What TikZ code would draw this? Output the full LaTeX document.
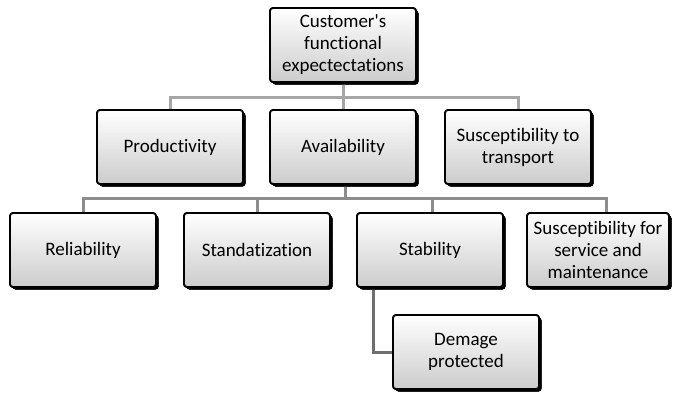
\documentclass[tikz,border=0pt]{standalone}
\usepackage{fontspec}
\setmainfont{Carlito}[Ligatures={TeXOff,NoCommon}]
\usetikzlibrary{shadows,calc}
\definecolor{conA}{HTML}{A6A6A6}
\definecolor{conB}{HTML}{8C8C8C}
\definecolor{conC}{HTML}{6E6E6E}
\tikzset{
  boxnode/.style={draw=black, line width=1.8pt, rounded corners=3pt,
    top color=white, bottom color=black!20,
    minimum width=146pt, minimum height=74pt, inner sep=0pt,
    align=center, font=\fontsize{19}{22}\selectfont,
    drop shadow={shadow xshift=2.5pt, shadow yshift=-2.5pt, fill=black, opacity=1}},
  linkA/.style={draw=conA, line width=3pt},
  linkB/.style={draw=conB, line width=3pt},
  linkC/.style={draw=conC, line width=3pt}
}
\begin{document}
\begin{tikzpicture}[x=1pt,y=-1pt]
\useasboundingbox (0,0) rectangle (675,392);
\coordinate (busA) at (343,97);
\coordinate (busB) at (345,198);
\node[boxnode] (root) at (343,45) {Customer's\\functional\\expectectations};
\node[boxnode] (prod) at (170,147) {Productivity};
\node[boxnode] (avail) at (343,147) {Availability};
\node[boxnode] (trans) at (518,147) {Susceptibility to\\transport};
\node[boxnode] (rel) at (83,250) {Reliability};
\node[boxnode] (std) at (257,250) {Standatization};
\node[boxnode] (stab) at (430,250) {Stability};
\node[boxnode, minimum width=142pt] (serv) at (598,250) {Susceptibility for\\service and\\maintenance};
\node[boxnode] (dem) at (466,352) {Demage\\protected};
\draw[linkA] (root.south) -- (busA);
\draw[linkA] (prod.north) |- (busA) -| (trans.north);
\draw[linkA] (busA) -- (avail.north);
\draw[linkB] ([xshift=2pt]avail.south) -- (busB);
\draw[linkB] (rel.north) |- (busB) -| ([xshift=8pt]serv.north);
\draw[linkB] (std.north |- busB) -- (std.north);
\draw[linkB] ([xshift=2pt]stab.north |- busB) -- ([xshift=2pt]stab.north);
\draw[linkC] ([xshift=-57pt]stab.south) |- (dem.west);
% boxes redrawn above the connectors
\node[boxnode] at (root) {Customer's\\functional\\expectectations};
\node[boxnode] at (prod) {Productivity};
\node[boxnode] at (avail) {Availability};
\node[boxnode] at (trans) {Susceptibility to\\transport};
\node[boxnode] at (rel) {Reliability};
\node[boxnode] at (std) {Standatization};
\node[boxnode] at (stab) {Stability};
\node[boxnode, minimum width=142pt] at (serv) {Susceptibility for\\service and\\maintenance};
\node[boxnode] at (dem) {Demage\\protected};
\end{tikzpicture}
\end{document}
